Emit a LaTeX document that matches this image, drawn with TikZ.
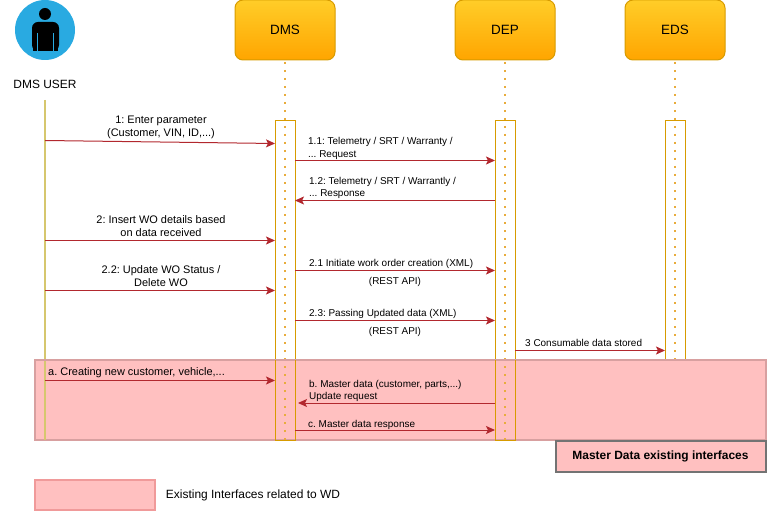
\documentclass[tikz,border=0pt]{standalone}
\usepackage{fontspec}
\setmainfont{Liberation Sans}
\frenchspacing
\usetikzlibrary{arrows.meta, positioning}
\definecolor{actorblue}{HTML}{29AAE1}
\definecolor{boxtop}{HTML}{FFCD28}
\definecolor{boxbot}{HTML}{FFA500}
\definecolor{boxline}{HTML}{D79B00}
\definecolor{dotline}{HTML}{E8AC3C}
\definecolor{userline}{HTML}{D6C76E}
\definecolor{msgred}{HTML}{B2282E}
\definecolor{pinkfill}{HTML}{FFC0C0}
\definecolor{pinkline}{HTML}{D8A0A0}
\definecolor{keyline}{HTML}{F09A9A}

\begin{document}
\begin{tikzpicture}[x=1bp, y=-1bp,
            sys/.style={draw=boxline, line width=1bp, rounded corners=8bp, top color=boxtop, bottom color=boxbot, minimum width=100bp, minimum height=60bp, inner sep=0pt, outer sep=0pt, font=\fontsize{13.5}{16}\selectfont},
            bar/.style={draw=boxline, line width=1.2bp, fill=white, minimum width=20bp, inner sep=0pt, outer sep=0pt},
            life/.style={draw=dotline, line width=2bp, dash pattern=on 2bp off 6bp, dash phase=6bp},
            pipe/.style={-{Stealth[length=9bp, width=8bp, inset=2bp]}, draw=msgred, line width=1bp},
            lbl/.style={inner sep=0pt, align=left, font=\fontsize{10}{12.5}\selectfont},
            clbl/.style={inner sep=0pt, align=center, font=\fontsize{10}{13}\selectfont},
            wide/.style={font=\fontsize{11}{13}\selectfont}]
            \useasboundingbox (0,0) rectangle (767,512);

            % actor
            \node[circle, fill=actorblue, minimum size=60bp, inner sep=0pt] (user) at (45,30) {};
            \node[circle, fill=black, minimum size=12bp, inner sep=0pt] (head) at (45,14) {};
            \fill[black, rounded corners=6bp] (32,51) -- (32,22) -- (59,22) -- (59,51) -- cycle;
            \fill[black] (33,45) rectangle (58,51);
            \draw[actorblue, line width=1.1bp] (37.3,33) -- (37.3,51.5) (53.5,33) -- (53.5,51.5);
            \node[clbl, font=\fontsize{12}{14}\selectfont] (userlabel) at (45,84) {DMS USER};
            \coordinate (usertop) at (45,100);
            \coordinate (userend) at (45,440);

            % systems
            \node[sys] (dms) at (285,30) {DMS};
            \node[sys] (dep) at (505,30) {DEP};
            \node[sys] (eds) at (675,30) {EDS};

            % bars
            \node[bar, minimum height=320bp] (bardms) at (285.5,280.5) {};
            \node[bar, minimum height=320bp] (bardep) at (505.5,280.5) {};
            \node[bar, minimum height=240bp] (bareds) at (675.5,240.5) {};

            % lifelines
            \draw[userline, line width=1.5bp] (usertop) -- (userend);
            \draw[life] (dms.south) -- (dms.south |- bardms.south);
            \draw[life] (dep.south) -- (dep.south |- bardep.south);
            \draw[life] (eds.south) -- (eds.south |- bareds.south);

            % existing interfaces
            \node[draw=pinkline, line width=2bp, fill=pinkfill, minimum width=731bp, minimum height=80bp, inner sep=0pt, outer sep=0pt] (band) at (400.5,400) {};
            \draw[boxline, line width=1.2bp] (bardms.north west |- band.north) -- (bardms.south west) -- (bardms.south east) -- (bardms.north east |- band.north);
            \draw[boxline, line width=1.2bp] (bardep.north west |- band.north) -- (bardep.south west) -- (bardep.south east) -- (bardep.north east |- band.north);
            \draw[life, dash phase=2bp] (dms.south |- band.north) -- (dms.south |- bardms.south);
            \draw[life, dash phase=2bp] (dep.south |- band.north) -- (dep.south |- bardep.south);
            \draw[userline, line width=1.5bp] (45,361) -- (userend);
            \node[draw=black!55, line width=2bp, fill=pinkfill, minimum width=210bp, minimum height=31bp, inner sep=0pt, font=\fontsize{12}{14}\selectfont\bfseries] (bandtitle) at (660.5,456.5) {\raisebox{-1pt}{Master Data existing interfaces}};
            \node[draw=keyline, line width=1.5bp, fill=pinkfill, minimum width=120bp, minimum height=30bp, inner sep=0pt] (legendkey) at (95,495) {};
            \node[lbl, right=10bp of legendkey, yshift=-0.5bp, font=\fontsize{12}{14}\selectfont] (legendtext) {Existing Interfaces related to WD};

            % message ends
            \coordinate (m1a) at (45,140.5);   \coordinate (m1b) at (275,143.5);
            \coordinate (m11a) at (295,160.5); \coordinate (m11b) at (495,160.5);
            \coordinate (m12a) at (495,200.5); \coordinate (m12b) at (295,200.5);
            \coordinate (m2a) at (45,240.5);   \coordinate (m2b) at (275,240.5);
            \coordinate (m21a) at (295,270.5); \coordinate (m21b) at (495,270.5);
            \coordinate (m22a) at (45,290.5);  \coordinate (m22b) at (275,290.5);
            \coordinate (m23a) at (295,320.5); \coordinate (m23b) at (495,320.5);
            \coordinate (m3a) at (515,350.5);  \coordinate (m3b) at (665,350.5);
            \coordinate (maa) at (45,380.5);   \coordinate (mab) at (275,380.5);
            \coordinate (mba) at (495,403);    \coordinate (mbb) at (298,403);
            \coordinate (mca) at (295,430);    \coordinate (mcb) at (495,430);

            % messages
            \draw[pipe] (m1a) -- (m1b);
            \draw[pipe] (m11a) -- (m11b);
            \draw[pipe] (m12a) -- (m12b);
            \draw[pipe] (m2a) -- (m2b);
            \draw[pipe] (m21a) -- (m21b);
            \draw[pipe] (m22a) -- (m22b);
            \draw[pipe] (m23a) -- (m23b);
            \draw[pipe] (m3a) -- (m3b);
            \draw[pipe] (maa) -- (mab);
            \draw[pipe] (mba) -- (mbb);
            \draw[pipe] (mca) -- (mcb);

            % labels
            \node[clbl, wide] (t1) at (161,127) {1: Enter parameter\\(Customer, VIN, ID,...)};
            \node[lbl, anchor=west] (t11) at (308,148.5) {1.1: Telemetry / SRT / Warranty /\\... Request};
            \node[lbl, anchor=west] (t12) at (309,188) {1.2: Telemetry / SRT / Warrantly /\\... Response};
            \node[clbl, wide] (t2) at (161,226.5) {2: Insert WO details based\\on data received};
            \node[lbl, anchor=west] (t21) at (309,263.5) {2.1 Initiate work order creation (XML)};
            \node[clbl] (t21b) at (395,281.5) {(REST API)};
            \node[clbl, wide] (t22) at (161,276.5) {2.2: Update WO Status /\\Delete WO};
            \node[lbl, anchor=west] (t23) at (309,313.5) {2.3: Passing Updated data (XML)};
            \node[clbl] (t23b) at (395,331.5) {(REST API)};
            \node[lbl, anchor=west] (t3) at (525,343) {3 Consumable data stored};
            \node[lbl, anchor=west, wide] (ta) at (48,372.5) {a. Creating new customer, vehicle,...};
            \node[lbl, anchor=west] (tb) at (309,391) {b. Master data (customer, parts,...)\\Update request};
            \node[lbl, anchor=west] (tc) at (308,425) {c. Master data response};
        \end{tikzpicture}
\end{document}
